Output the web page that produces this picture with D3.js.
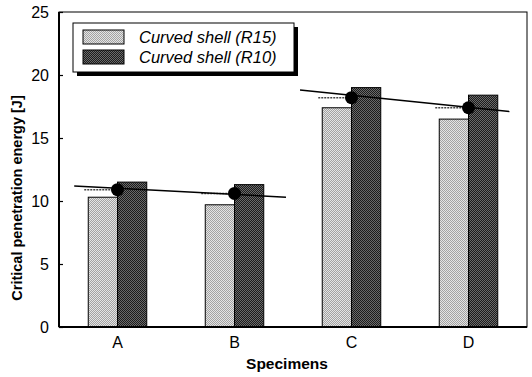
<!DOCTYPE html>
<html lang="en">
<head>
  <meta charset="UTF-8" />
  <title>Critical penetration energy</title>
  <script src="https://d3js.org/d3.v7.min.js"></script>
  <style>
    body { margin: 0; background: #fff; }
    svg { display: block; font-family: Arial, "Liberation Sans", sans-serif; }
    .tick-label { font-size: 16px; fill: #000; }
    .axis-title { font-size: 14.5px; font-weight: bold; fill: #000; }
    .x-title { font-size: 15.5px; }
    .legend-text { font-size: 16.5px; font-style: italic; fill: #000; }
  </style>
</head>
<body>
  <svg id="chart"></svg>

  <script>
    // data
    const specimens = ["A", "B", "C", "D"];
    const series = ["Curved shell (R15)", "Curved shell (R10)"];
    const r15 = [10.3, 9.7, 17.4, 16.5];
    const r10 = [11.5, 11.3, 19.0, 18.4];
    const means = [10.9, 10.6, 18.2, 17.4];
    const yTicks = [0, 5, 10, 15, 20, 25];
    // trend lines: [position in category units, value]
    const trendAB = [[-0.37, 11.2], [1.44, 10.3]];
    const trendCD = [[1.56, 18.8], [3.35, 17.1]];

    const W = 532, H = 377;
    const margin = { top: 12, right: 5, bottom: 50, left: 59 };
    const width = W - margin.left - margin.right;
    const height = H - margin.top - margin.bottom;

    const svg = d3.select("#chart").attr("width", W).attr("height", H);

    // stippled fills like the printed original
    const defs = svg.append("defs");
    function stipple(id, base, dot) {
      const p = defs.append("pattern")
        .attr("id", id)
        .attr("width", 2).attr("height", 2)
        .attr("patternUnits", "userSpaceOnUse");
      p.append("rect").attr("width", 2).attr("height", 2).attr("fill", base);
      p.append("rect").attr("x", 0).attr("y", 0).attr("width", 1).attr("height", 1).attr("fill", dot);
      p.append("rect").attr("x", 1).attr("y", 1).attr("width", 1).attr("height", 1).attr("fill", dot);
    }
    stipple("light", "#e4e4e4", "#a2a2a2");
    stipple("dark", "#1c1c1c", "#6a6a6a");
    const fills = ["url(#light)", "url(#dark)"];

    const g = svg.append("g")
      .attr("transform", `translate(${margin.left},${margin.top})`);

    const x = d3.scaleBand().domain(specimens).range([0, width]).padding(0);
    const xs = d3.scaleBand().domain(series).range([0, x.bandwidth()]).paddingInner(0).paddingOuter(1);
    const y = d3.scaleLinear().domain([0, 25]).range([height, 0]);
    const xi = d3.scaleLinear()
      .domain([0, 1])
      .range([x(specimens[0]) + x.bandwidth() / 2, x(specimens[1]) + x.bandwidth() / 2]);

    // bars
    const rows = specimens.map((s, i) => ({ s, vals: [r15[i], r10[i]] }));
    const grp = g.selectAll(".grp").data(rows).join("g")
      .attr("transform", d => `translate(${x(d.s)},0)`);
    grp.selectAll("rect")
      .data(d => d.vals.map((v, k) => ({ k, v })))
      .join("rect")
      .attr("x", d => xs(series[d.k]))
      .attr("y", d => y(d.v))
      .attr("width", xs.bandwidth())
      .attr("height", d => y(0) - y(d.v))
      .attr("fill", d => fills[d.k])
      .attr("stroke", "#000")
      .attr("stroke-width", 1);

    // dashed mean guides
    g.selectAll(".guide").data(means).join("line")
      .attr("x1", (d, i) => x(specimens[i]) + xs(series[0]) - 4)
      .attr("x2", (d, i) => x(specimens[i]) + x.bandwidth() / 2 - 4)
      .attr("y1", d => y(d)).attr("y2", d => y(d))
      .attr("stroke", "#444")
      .attr("stroke-width", 1.5)
      .attr("stroke-dasharray", "2,1");

    // trend lines
    const line = d3.line().x(d => xi(d[0])).y(d => y(d[1]));
    [trendAB, trendCD].forEach(t => {
      g.append("path").datum(t)
        .attr("d", line)
        .attr("fill", "none")
        .attr("stroke", "#000")
        .attr("stroke-width", 1.5);
    });

    // mean markers
    g.selectAll(".mean").data(means).join("circle")
      .attr("cx", (d, i) => x(specimens[i]) + x.bandwidth() / 2)
      .attr("cy", d => y(d))
      .attr("r", 6.5)
      .attr("fill", "#000");

    // frame
    g.append("rect")
      .attr("width", width).attr("height", height)
      .attr("fill", "none").attr("stroke", "#000").attr("stroke-width", 1);
    g.append("line").attr("x1", 0).attr("x2", 0).attr("y1", 0).attr("y2", height)
      .attr("stroke", "#000").attr("stroke-width", 2);
    g.append("line").attr("x1", 0).attr("x2", width).attr("y1", height).attr("y2", height)
      .attr("stroke", "#000").attr("stroke-width", 2);

    // y axis
    const yAxis = g.append("g")
      .call(d3.axisLeft(y).tickValues(yTicks).tickSize(-4).tickPadding(10));
    yAxis.select(".domain").remove();
    yAxis.selectAll("line").attr("stroke", "#000").attr("stroke-width", 1.2);
    yAxis.selectAll("text").attr("class", "tick-label").attr("font-family", null).attr("font-size", null);

    // x axis
    const xAxis = g.append("g")
      .attr("transform", `translate(0,${height})`)
      .call(d3.axisBottom(x).tickSize(0).tickPadding(10));
    xAxis.select(".domain").remove();
    xAxis.selectAll("text").attr("class", "tick-label").attr("font-family", null).attr("font-size", null);

    // axis titles
    g.append("text")
      .attr("class", "axis-title x-title")
      .attr("x", width / 2 - 6)
      .attr("y", height + 42)
      .attr("text-anchor", "middle")
      .text("Specimens");
    g.append("text")
      .attr("class", "axis-title")
      .attr("transform", "rotate(-90)")
      .attr("x", -186)
      .attr("y", -37)
      .attr("text-anchor", "middle")
      .text("Critical penetration energy [J]");

    // legend
    const lg = g.append("g").attr("transform", "translate(14,11)");
    lg.append("rect").attr("x", 4).attr("y", 4).attr("width", 221).attr("height", 49).attr("fill", "#000");
    lg.append("rect").attr("width", 221).attr("height", 49)
      .attr("fill", "#fff").attr("stroke", "#000").attr("stroke-width", 1);
    series.forEach((s, k) => {
      lg.append("rect")
        .attr("x", 10).attr("y", 7 + k * 20)
        .attr("width", 41).attr("height", 14)
        .attr("fill", fills[k]).attr("stroke", "#000");
      lg.append("text")
        .attr("class", "legend-text")
        .attr("x", 66).attr("y", 20 + k * 20)
        .text(s);
    });
  </script>
</body>
</html>
